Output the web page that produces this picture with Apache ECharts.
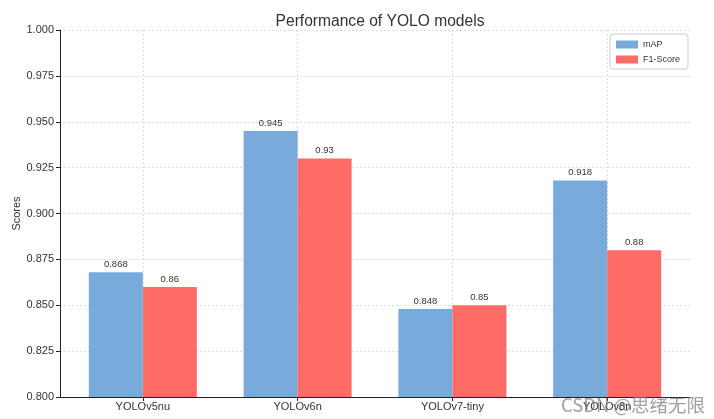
<!DOCTYPE html>
<html>
<head>
<meta charset="utf-8">
<script src="https://cdn.jsdelivr.net/npm/echarts@6/dist/echarts.min.js"></script>
<style>html,body{margin:0;padding:0;background:#fff}#c{width:714px;height:419px}</style>
</head>
<body>
<div id="c"></div>
<script>
const categories = ['YOLOv5nu', 'YOLOv6n', 'YOLOv7-tiny', 'YOLOv8n'];
const mapValues = [0.868, 0.945, 0.848, 0.918];
const f1Values = [0.86, 0.93, 0.85, 0.88];
const yTicks = [0.800, 0.825, 0.850, 0.875, 0.900, 0.925, 0.950, 0.975, 1.000];

const chart = echarts.init(document.getElementById('c'));
const font = 'Liberation Sans, Arial, sans-serif';
const lbl = {show: true, position: 'top', distance: 3, fontSize: 9.5, color: '#333', fontFamily: font,
  formatter: p => String(p.value[1])};
chart.setOption({
  animation: false,
  title: {text: 'Performance of YOLO models', left: 375, textAlign: 'center', top: 9,
    textStyle: {fontSize: 15.6, fontWeight: 'normal', color: '#333', fontFamily: font}},
  legend: {orient: 'vertical', right: 26, top: 34, itemWidth: 22, itemHeight: 8, itemGap: 6,
    borderColor: '#ccc', borderWidth: 1, borderRadius: 3, padding: [6, 8, 5, 6],
    textStyle: {fontSize: 9, color: '#333', fontFamily: font},
    data: [{name: 'mAP', icon: 'rect'}, {name: 'F1-Score', icon: 'rect'}]},
  grid: {left: 60, right: 24, top: 30, bottom: 22, containLabel: false, outerBoundsMode: 'none'},
  xAxis: {type: 'value', min: -0.535, max: 3.535,
    axisLine: {show: true, onZero: false, lineStyle: {color: '#222', width: 1}},
    axisTick: {show: true, length: 4, customValues: [0, 1, 2, 3], lineStyle: {color: '#222'}},
    axisLabel: {customValues: [0, 1, 2, 3], formatter: v => categories[Math.round(v)] || '',
      fontSize: 11, color: '#333', fontFamily: font, margin: 4},
    splitLine: {show: true, lineStyle: {type: [2, 2], color: '#d4d4d4', width: 0.8}}},
  yAxis: {type: 'value', min: 0.8, max: 1.0, interval: 0.025,
    name: 'Scores', nameLocation: 'middle', nameGap: 38, nameRotate: 90, nameMoveOverlap: false,
    nameTextStyle: {fontSize: 11, color: '#333', fontFamily: font},
    axisLine: {show: true, onZero: false, lineStyle: {color: '#222', width: 1}},
    axisTick: {show: true, length: 4, lineStyle: {color: '#222'}},
    axisLabel: {formatter: v => v.toFixed(3), fontSize: 11, color: '#333', fontFamily: font, margin: 6},
    splitLine: {show: true, lineStyle: {type: [2, 2], color: '#d4d4d4', width: 0.8}}},
  series: [
    {name: 'mAP', type: 'bar', barWidth: 54, barGap: '0%', itemStyle: {color: '#78abdb'},
      label: lbl, data: mapValues.map((v, i) => [i, v])},
    {name: 'F1-Score', type: 'bar', barWidth: 54, barGap: '0%', itemStyle: {color: '#ff6b66'},
      label: lbl, data: f1Values.map((v, i) => [i, v])}
  ],
  graphic: [{type: 'text', right: 9, bottom: 5, z: 100,
    style: {text: 'CSDN @思绪无限', fontSize: 18.5, fill: 'rgba(120,120,120,0.7)',
      fontFamily: 'Noto Sans CJK SC, DejaVu Sans, sans-serif'}}]
});
</script>
</body>
</html>
